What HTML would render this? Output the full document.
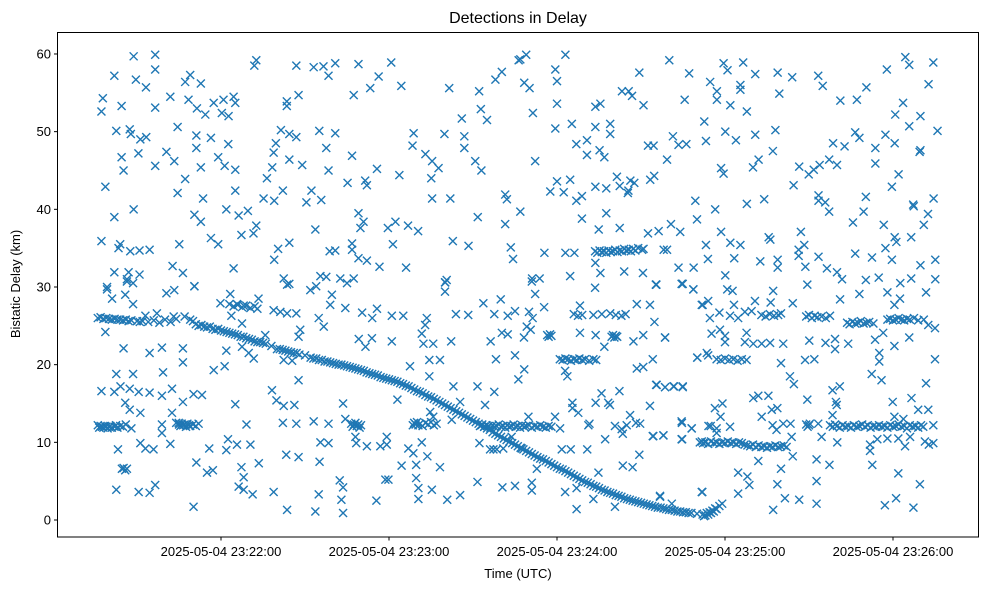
<!DOCTYPE html>
<html><head><meta charset="utf-8"><style>
html,body{margin:0;padding:0;background:#fff;}
svg{display:block;font-family:"Liberation Sans","DejaVu Sans",sans-serif;}
</style></head><body>
<svg id="chart" width="988" height="590" viewBox="0 0 988 590" xmlns="http://www.w3.org/2000/svg">
<rect x="0" y="0" width="988" height="590" fill="#fff"/>
<text x="518" y="23" text-anchor="middle" font-size="16" fill="#000">Detections in Delay</text>
<text x="518" y="578" text-anchor="middle" font-size="13" fill="#000">Time (UTC)</text>
<text x="20" y="284" text-anchor="middle" font-size="13" fill="#000" transform="rotate(-90 20 284)">Bistatic Delay (km)</text>
<g id="marks"></g>
<g id="axes"></g>
</svg>
<script>
// seconds after 23:21:00 UTC, delay in km
const xTickSeconds = [60, 120, 180, 240, 300];
const xTickLabels = ["2025-05-04 23:22:00","2025-05-04 23:23:00","2025-05-04 23:24:00","2025-05-04 23:25:00","2025-05-04 23:26:00"];
const yTickValues = [0, 10, 20, 30, 40, 50, 60];

const mainTrack = [[16,26],[17,26.1],[18,25.9],[19,26],[20,25.9],[21,25.8],[22,25.9],[23,25.8],[24,25.8],[25,25.7],[26,25.8],[27,25.6],[28,25.7],[30,25.6],[31,25.5],[32,25.6],[34,25.5],[36,25.7],[38,25.4],[40,25.8],[42,25.5],[44,25.9],[47,26.2],[49,25.8],[50,25.6],[51,25.2],[52,25],[53,25.1],[54,24.9],[55,24.8],[56,24.9],[57,24.6],[58,24.5],[59,24.6],[60,24.4],[61,24.3],[62,24.2],[63,24.1],[64,24],[65,23.9],[66,23.8],[67,23.6],[68,23.6],[69,23.4],[70,23.3],[71,23.2],[72,23],[73,22.9],[74,22.9],[75,22.8],[76,22.7],[78,22.4],[80,22],[81,22],[82,21.9],[83,21.8],[84,21.7],[85,21.6],[86,21.5],[87,21.5],[88,21.3],[90,21.2],[92,20.9],[93,20.8],[94,20.8],[95,20.6],[96,20.6],[97,20.4],[98,20.4],[99,20.3],[100,20.2],[101,20.1],[102,20],[103,20],[104,19.9],[105,19.8],[106,19.7],[107,19.6],[108,19.5],[109,19.4],[110,19.3],[111,19.2],[112,19],[113,18.9],[114,18.8],[115,18.7],[116,18.6],[117,18.4],[118,18.3],[119,18.2],[120,18.1],[121,18],[122,17.9],[123,17.8],[124,17.6],[125,17.5],[126,17.3],[127,17.2],[128,17],[129,16.8],[130,16.6],[131,16.5],[132,16.3],[133,16.1],[134,15.9],[135,15.8],[136,15.6],[137,15.4],[138,15.2],[139,15],[140,14.8],[141,14.6],[142,14.4],[143,14.2],[144,14],[145,13.8],[146,13.6],[147,13.4],[148,13.2],[149,13],[150,12.8],[151,12.6],[152,12.4],[153,12.2],[154,12],[155,11.8],[156,11.6],[157,11.3],[158,11.1],[159,10.9],[160,10.7],[161,10.5],[162,10.3],[163,10.1],[164,9.9],[165,9.7],[166,9.5],[167,9.3],[168,9.1],[169,8.9],[170,8.7],[171,8.5],[172,8.3],[173,8.1],[174,7.9],[175,7.8],[176,7.6],[177,7.4],[178,7.2],[179,7],[180,6.8],[181,6.6],[182,6.5],[183,6.3],[184,6.1],[185,5.9],[186,5.7],[187,5.5],[188,5.3],[189,5.1],[190,4.9],[191,4.8],[192,4.6],[193,4.4],[194,4.3],[195,4.1],[196,3.9],[197,3.8],[198,3.6],[199,3.5],[200,3.4],[201,3.2],[202,3.1],[203,3],[204,2.8],[205,2.7],[206,2.6],[207,2.5],[208,2.4],[209,2.3],[210,2.2],[211,2.1],[212,2],[213,1.9],[214,1.8],[215,1.7],[216,1.6],[217,1.6],[218,1.5],[219,1.4],[220,1.3],[221,1.3],[222,1.2],[223,1.1],[224,1.1],[225,1],[226,1],[227,0.9],[228,0.9],[230,0.8],[232,0.7],[232.5,0.5],[233,0.6],[233.5,0.9],[234,0.7],[234.5,1],[235,0.9],[235.5,1.2],[236,1.1],[236.5,1.5],[237,1.4],[238,1.8],[239,2.1]];

const seg12 = [[16,12.2],[16.5,11.9],[17,12.1],[17.5,12],[18,11.9],[18.5,12.1],[19,12],[19.5,11.8],[20,12],[20.5,12.1],[21,11.9],[22,12],[22.5,12.2],[23,11.9],[24,12.1],[25,12],[26,12.3],[28,11.8],
[44,12.5],[45,12.3],[45.5,12.1],[46,12.4],[46.5,12.2],[47,12.3],[47.5,12],[48,12.4],[48.5,12.2],[49,12.1],[50,12.3],[51,12.1],[52,12.4],
[106.5,12.4],[107,12],[107.5,12.3],[108,12.5],[108.5,12.1],[109,12.3],[109.5,11.9],[110,12.2],
[128.5,12.2],[129,12.5],[129.5,12.3],[130,12.6],[130.5,12.2],[131,12.4],[132,12.1],[133,12.5],[134,12.3],[135,12.6],[136,12.2],[137,12.4],
[152.5,12.1],[153.3,12.3],[154,12],[154.8,12.2],[155.5,12.1],[156.2,11.9],[157,12.2],[157.7,12],[158.4,12.1],[159.2,12.3],[160,12],[160.7,12.1],[161.5,11.9],[162.2,12.2],[163,12],[163.7,12.1],[164.5,12.3],[165.2,12],[166,12.1],[166.8,11.9],[167.5,12.2],[168.3,12],[169,12.1],[170,12.2],[171,11.9],[172,12.1],[173,12],[174,12.2],[175,12],[176,11.9],[177,12.1],[178,12],
[269,12.3],[269.5,12],[270,12.2],
[277.5,12.2],[278.5,12],[279.3,12.3],[280,12.1],[281,11.9],[282,12.2],[283,12],[284,12.1],[285,11.9],[286,12.2],[287,12],[288,12.1],[289,12.3],[290,12],[291,12.2],[292,11.9],[293,12.1],[294,12],[295,12.2],[296,12],[297,12.1],[298,11.9],[299,12.2],[300,12],[301,12.1],[302,12.3],[303,12],[304,12.1],[305,11.8],[306,12.2],[307,12],[308,12.1],[309,11.9],[310,12.2],[310.8,12]];

const seg26 = [[269,26.2],[270,26.4],[271,26],[272,26.3],[273,26.1],[274.5,26.2],[276,26],[277.5,26.3],
[283.6,25.4],[284.5,25.2],[285.5,25.5],[286.5,25.3],[287.5,25.4],[288.5,25.6],[289.5,25.3],[290.5,25.4],[291.5,25.5],[293,25.3],
[298,25.8],[299,25.9],[300,25.7],[301,25.8],[302,26],[303,25.8],[304,25.7],[305,25.9],[306,25.8],[307.5,26],[309,25.7],[311,25.8],
[186,26.5],[187.5,26.3],[189,26.4],[193,26.4],[196,26.5],[199,26.6],[201,26.4],[203,26.3],[204.5,26.5],
[253,26.4],[254.5,26.2],[256,26.5],[257.5,26.3],[259,26.4],[260,26.6],
[63,27.8],[64.5,27.5],[66,27.7],[67.5,27.4],[69,27.6],[70.5,27.3],[72,27.5],[73,27.2]];

const seg35 = [[193.6,34.6],[194.4,34.4],[195.2,34.7],[196,34.5],[196.8,34.6],[197.6,34.4],[198.4,34.7],[199.2,34.5],[200,34.6],[200.8,34.8],[201.6,34.5],[202.4,34.7],[203.2,34.6],[204,34.9],[204.8,34.7],[205.6,34.8],[206.4,34.6],[207.2,34.9],[208,34.7],[209,35],[210.4,34.8]];

const seg20 = [[181,20.7],[182,20.6],[183,20.8],[184,20.7],[185,20.5],[186,20.7],[187,20.6],[188,20.8],[189,20.6],[190,20.7],[191.5,20.5],[193,20.7],[194,20.6],
[237,20.7],[238.5,20.6],[240,20.8],[241.5,20.6],[243,20.7],[244.5,20.5],[246,20.7],[247.7,20.6],
[176.5,23.8],[177,23.6],[177.5,23.9],[178,23.7],[199.5,23.6],[200,23.8],[200.5,23.5],[201,23.7],[201.5,23.6]];

const seg10 = [[232.2,9.9],[233,10],[234,9.8],[235,10.1],[236,9.9],[237,10],[238,9.8],[239,10],[240,9.9],[241,10.1],[242,9.9],[243,10],[244,9.8],[245,10],[246,9.9],[247,9.7],[248,9.6],[249,9.5],[250,9.7],[251,9.4],[252,9.6],[253,9.4],[254,9.5],[255,9.3],[256,9.5],[257,9.4],[258,9.6],[259,9.4],[260,9.5],[261,9.6],[262,9.4],
[24.6,6.6],[25.2,6.7],[25.8,6.4],[26.4,6.6],[156.1,9.1],[157.3,9.1],[158.5,9.1]];

const noise = [[28.8,59.7],[36.5,59.9],[36.5,58],[21.9,57.2],[29.6,56.7],[33.2,55.7],[17.8,54.3],[17.3,52.6],[24.5,53.3],[36.5,53.1],[41.9,54.5],[47.2,56.4],[49,57.3],[52.8,56.2],[48.4,54.1],[51.4,53],[54.4,52.2],[57.4,53.7],[60.9,54.1],[64.5,54.5],[65.1,53.7],[60.3,52.4],[62.7,52],[71.9,58.5],[72.6,59.2],[86.9,58.5],[93.1,58.3],[96.6,58.4],[100.8,58.8],[98.4,57.2],[109.1,58.7],[120.8,58.9],[116.3,57.1],[113.3,55.6],[124.4,55.9],[107.4,54.7],[83.5,53.9],[83.5,53.3],[87.7,54.7],[141.5,55.6],[152.2,55.2],[158,56.7],[160.3,57.7],[152.8,52.9],[155,51.5],[146,51.7],[166.3,59.2],
[22.6,50.1],[27.4,50.3],[27.8,49.7],[31.2,49],[33.3,49.3],[44.5,50.6],[51.2,49.5],[56.4,49.2],[51.2,47.9],[62.6,48.4],[24.5,46.7],[30.5,47.2],[40.5,47.4],[43.3,46.2],[25.2,45],[36.5,45.6],[52.8,45.4],[59,46.7],[61.3,45.6],[65.1,45.1],[81.4,50.2],[84.4,49.7],[86.9,49.3],[79.6,48.5],[78.8,47.3],[95.1,50.1],[100.8,49.8],[97.6,47.9],[84.4,46.4],[89,45.7],[78.3,45.4],[76.4,44],[98.4,45],[106.8,46.9],[115.7,45.2],[123.7,44.4],[128.8,49.8],[128.4,48.2],[133,47.1],[135.4,46.2],[137.7,45.3],[135.1,44],[139.8,49.7],[146.9,49.4],[146.9,47.9],[150.8,46.2],[153,45],[18.7,42.9],[44.5,42.1],[53.6,41.4],[65.1,42.4],[75.2,41.4],[79,41.1],[82.1,42.4],[92.3,42.4],[90.5,40.9],[95.8,41.2],[105.2,43.4],[111.5,43.7],[112.1,43.1],[135.4,41.4],[141.9,41.4],[161.5,41.9],[162.1,41.3],
[21.9,39],[28.8,40],[47.2,43.9],[50.5,39.3],[52.8,38.4],[61.9,40],[66.3,39.2],[69.6,39.8],[72.6,37.9],[71.6,36.9],[67.3,36.7],[56.4,36.3],[59,35.5],[45.1,35.5],[17.3,35.9],[24,35.5],[23.4,35],[27.6,34.6],[30.9,34.7],[34.5,34.8],[93.7,37.4],[109.1,39.5],[110.9,38.4],[109.8,37.6],[119.6,37.6],[122.3,38.4],[126.8,37.9],[130.4,37.2],[121.4,35.5],[142.8,35.9],[148.4,35.3],[151.7,39],[161.5,38.1],[163.5,35.1],[164.3,33.6],[84.4,35.7],[80.4,34.9],[79,33.5],[98.8,34.6],[100.8,34.7],[106.8,35.6],[106.8,34.8],[109.1,33.7],[112.1,33.4],[116.6,32.6],[126.1,32.5],[21.9,31.9],[27,31.9],[30.9,31.6],[26.4,31],[28.6,30.5],[42.7,32.7],[46.4,31.8],[50.5,30.1],[64.5,32.4],[82.4,31.1],[84.4,30.4],[95.5,31.4],[97.6,31.3],[102.6,31.1],[105,30.5],[107.4,31.1],[140.1,30.6],[140.6,30.9],[19.3,30],
[166.9,59.3],[169,59.9],[183,59.9],[179.4,58],[180,56.5],[168.3,56.3],[170.2,55.6],[171.4,52.4],[180,53.6],[179.4,50.4],[220.1,59.2],[209.4,57.6],[227.2,57.5],[234.7,56.4],[239.5,58.8],[240.9,57.9],[246.5,58.9],[250.8,57.4],[245.5,56],[245.5,55.4],[237.1,55.2],[237.1,54.1],[241.9,53.4],[247.8,52.6],[225.6,54.1],[203.2,55.2],[205.6,55.2],[206.8,54.6],[210.9,53.4],[193.7,53.2],[195.5,53.6],[258.8,57.6],[259.4,54.9],[264,57],[273.3,57.2],[274.9,55.9],[281.2,54],[287.1,54.1],[290.5,55.7],[297.8,58],[304.4,59.6],[305.8,58.6],[314.4,58.9],[312.7,56.1],[303.6,53.7],[300.8,52.2],[309.8,52],[305.8,50.7],[315.9,50.1],[297.3,49.6],[300.6,48.5],[293.7,47.9],[293.7,45.9],[309.8,47.6],[309.5,47.4],[302,44.5],[299.6,42.9],[286.5,49.9],[288,49.2],[282.7,48.1],[278.6,48.5],[280,45.7],[277.2,46.4],[273.8,45.7],[271.7,45.1],[269.9,44.5],[266.5,45.5],[264.5,43.1],[258,50.2],[250.8,49.6],[257.1,47.5],[252,46.4],[250,45.4],[243.9,48.9],[240.1,50],[233.2,48.8],[232.6,51.3],[221.4,49.4],[223.4,48.3],[226.2,48.4],[212.5,48.2],[214.5,48.2],[219.3,46.4],[199,51],[199,49.7],[193.7,50.6],[185.3,51],[186.9,48.4],[190.7,48.9],[190.7,47],[195.2,47.6],[196.9,46.7],[172.2,46.2],[238.6,45.3],[239.5,44.6],[180,43.6],[184.7,43.8],[177.6,42.3],[182.4,42.2],[186.9,41.1],[188.9,41.7],[193.7,42.9],[197.6,42.7],[201.4,44.2],[202.4,43],[206.2,43.7],[207.6,43.4],[205.3,42.1],[205.5,42.4],[213.3,43.8],[214.7,44.3],
[166.9,39.7],[188.9,38.8],[197.6,39.5],[194.9,37.4],[202.4,37.6],[212.5,36.9],[216.3,37.2],[220.7,38.1],[224,37.1],[229.4,41.1],[230,38.7],[236.5,40],[247.8,40.7],[254,41.3],[238.6,37.1],[233.2,35.4],[241.9,35.7],[245.5,35.4],[233.9,33.6],[243.3,33.7],[255.6,36.4],[256.2,36.1],[267.1,37.1],[268.3,35.4],[266.3,34.8],[266.3,34],[252.6,33.3],[258.8,33.5],[258.8,32.5],[268.7,32.6],[273.4,33.9],[276.4,32.4],[280,31.9],[281.8,31],[273.4,41.8],[273.4,41.1],[275.8,40.9],[277.2,39.7],[285.7,38.3],[289.5,39.7],[290.3,41.6],[296.7,38],[300.6,36.4],[301.2,35.8],[297.3,35],[306.5,36.4],[311,38],[312.5,39.4],[314.5,41.4],[307.4,40.4],[307.2,40.6],[286.5,34.3],[292.5,33.8],[299.6,33.5],[309.8,32.8],[315.1,33.5],[315.1,31],[306.5,31.1],[302.6,30.5],[294.9,31.2],[290.3,30.9],[175.5,34.4],[183,34.4],[186.2,34.4],[193.7,33.1],[195.5,31.8],[204,32],[210.7,31.8],[184.7,31.4],[171.1,31.1],[173.8,31.1],[223.4,32.5],[228.8,32.5],[240.1,31.5],[215.5,30.3],[224.9,30.4],[218.1,34.8],[219.3,34.8],[210.9,34.9],
[19.3,29.7],[21.1,28.5],[25.8,29],[28.6,27.8],[26.4,30.7],[40.5,29.2],[43.3,29.6],[50.5,30.1],[18.7,24.2],[25.2,22.1],[34.5,21.5],[38.9,22.2],[46.4,22.1],[46.4,20.3],[22.6,18.8],[28.6,18.8],[39.3,19],[57.4,19.3],[61.3,19.8],[61.9,21.8],[59.8,27.9],[63.3,29.1],[73.4,28.5],[17.3,16.6],[21.9,16.5],[24.1,17.2],[27.4,16.9],[30.6,16.5],[34.5,16.4],[38.9,16],[42.5,16.9],[46.4,15.2],[50.2,16.2],[53.2,16.1],[25.8,15.1],[27.4,14.2],[31.2,13.8],[42.5,13.8],[65.1,14.9],[69.1,12.3],[78.2,16.7],[79.8,15.4],[82.4,14.7],[86.2,14.8],[87.7,18],[88.3,24.5],[87.7,23.6],[82.4,20.6],[85.4,20.5],[103.6,15],[82.1,12.5],[86.9,12.4],[93.1,12.7],[98.4,12.4],[104.4,13],[108,10.7],[108.3,9.9],[112.1,9.5],[116.9,9.5],[23.2,9.1],[31.2,9.9],[33,9.2],[35.9,9.1],[41.9,9.8],[38.9,12.3],[38.9,11.2],[44.9,12.5],[55.8,9.2],[62.5,10.4],[61.9,9],[65.7,9.7],[70.5,9.7],[73.5,7.3],[51.2,7.4],[55,6.1],[57.1,6.4],[67.3,6.8],[68.1,5.5],[66.3,4.3],[68.1,3.9],[71.3,3.3],[78.8,3.6],[22.6,3.9],[30.6,3.6],[34.5,3.5],[36.5,4.5],[50.2,1.7],[83.3,8.4],[87.7,8.1],[95.2,7.5],[95.5,10],[98.4,9.9],[83.6,1.3],[93.7,1.1],[94.9,3.3],[102.4,5.1],[103.6,4.2],[103,2.6],[103.6,0.9],[115.5,2.5],[118.7,5.2],[78.8,27],[81.2,26.8],[83.6,26.6],[86.9,26.6],[83.6,30.3],[91.9,29.6],[94,30.1],[99.6,29],[99,27.7],[96.7,24.9],[94.9,26],[104.4,27.3],[110.4,26.7],[115.7,27.2],[114,26],[111.6,22.3],[113.9,23.4],[109.2,23.3],[65.7,27.8],[68.1,27.6],[63.7,26.3],[67.5,25.3],[67.5,22.3],[69.9,21.5],[71.7,20.8],[75.8,23.8],[33,26.3],[37.1,26.6],[43.1,26.2],
[140,30.6],[140,29.4],[171,30.7],[172.2,29.1],[193.6,29.9],[215.4,30.3],[224.5,30.4],[228.7,29.7],[231.7,27.7],[153.7,27.9],[159.9,28.4],[175.4,27.4],[121,26.3],[125.1,26.3],[133.5,26],[132.9,25.1],[143.9,26.5],[148.3,26.4],[157.6,26.5],[162.4,26.3],[165,26.9],[170,26.8],[171.3,26],[170.6,24.5],[169.2,24.9],[131.7,24],[132.3,22.7],[135.8,22.7],[142.2,23],[121,23],[156.3,23],[160.3,24.1],[162.4,23.9],[168.2,23.5],[134.4,20.6],[138.2,20.6],[127.5,19.8],[134.4,18.5],[158.2,20.7],[165,21.2],[168.3,19.4],[166.2,18.1],[143,17.2],[151.6,17.2],[157.6,16.5],[154.3,14.8],[188.2,24.1],[193.8,23.8],[196.9,22.3],[188.2,27.6],[214.8,25.5],[213.2,27.7],[208.5,27.8],[218.6,23.5],[207.3,23],[210.8,23.8],[214.2,20.7],[210.8,19.7],[208.5,19.5],[230.1,20.9],[233.5,21.5],[182.9,19.2],[183.7,18.5],[215.4,17.4],[218.6,17.1],[221.6,17.2],[224.9,17.2],[195.9,16.3],[202.3,16.6],[193.8,15.1],[198.3,15.1],[198.9,14.8],[185.5,15.1],[185.5,14.4],[187.6,13.8],[213.2,14.7],[206.1,13.5],[208.2,12.5],[209.7,12.4],[204.9,12.2],[200.7,12.1],[203.1,11.7],[203.5,11.1],[191.2,12.2],[191.6,12.4],[224.5,12.7],[228.1,11.8],[234.1,12.1],[214.2,10.8],[218,10.9],[224.5,10.4],[231.7,10.1],[197.2,10.4],[181.7,9.1],[184.9,9.1],[190.8,9.1],[209.4,8.4],[203.5,7],[207,6.8],[194.8,6.1],[182.9,3.6],[187,4.1],[193,2.7],[187,1.4],[200.7,1.7],[216.8,3],[221,2.1],[231.7,3.6],[123,15.5],[134.7,13.9],[135.8,13.3],[142.4,12.9],[145.4,15.2],[152.3,9.9],[160.8,9.2],[163.8,10.7],[167.4,9.2],[169.8,13.3],[179.3,13.3],[181.1,11.8],[119.2,10.7],[119.2,9.7],[126.9,9.2],[131.7,10],[128.7,8.6],[133.7,8.2],[124.5,7],[129.7,7.1],[138.2,6.8],[119.8,5.2],[129.7,5.4],[130.5,4.1],[135.3,3.9],[130.5,2.7],[140.8,2.6],[145.4,3.2],[151.6,4.9],[160.5,4.2],[165,4.4],[171,4.8],[171,3.8],[172.8,6.6],
[215.3,30.3],[224.7,30.4],[228.7,29.7],[240.8,29.7],[242.7,29.5],[257.2,29.5],[269.4,30.3],[281.1,28.4],[288,29.1],[298,29.3],[302.5,28.5],[300.5,27.7],[311.8,29.3],[232,27.7],[234,28.2],[238,26.7],[234.6,26],[241.8,26.3],[243.2,27.7],[244.7,26],[247.1,26.8],[249.5,26.9],[250.7,28.2],[256.3,28],[264.2,27.9],[235.2,24],[238.2,24.5],[240,23.7],[240,22.9],[247.7,24.1],[247.1,22.9],[250.1,22.7],[253.1,22.7],[256.1,22.8],[260.8,22.7],[218.6,23.5],[230.1,20.9],[234,21.2],[260,20.2],[263.2,18.5],[264.6,17.5],[268.6,20.6],[271.9,20.7],[270.1,23.1],[275.9,22.8],[279.3,23.3],[279.3,22],[284,22.7],[293.6,23.2],[296.5,24.1],[300.5,22.4],[305.8,23.5],[295.1,21.5],[295.1,20.4],[292.4,18.8],[295.9,18],[311.8,17.6],[315,20.7],[315,24.7],[312.6,25.1],[215.6,17.4],[218.6,17.1],[221.8,17.2],[224.9,17.1],[236.4,14.4],[239.1,15],[238.4,13.3],[250.1,15.7],[251.9,16],[255.5,16],[253.1,13.3],[256.7,14.2],[258.7,14.4],[269.4,15.5],[278.4,16.7],[281,17.2],[279.6,15.2],[279.9,14.8],[278.4,13.5],[299.9,15.2],[306.6,15.7],[309,14.2],[312.6,14.2],[300.5,13.3],[303.7,13],[224.6,12.5],[228.1,11.8],[234.9,12.1],[237,11.8],[241.8,12],[237,11.2],[257,12.2],[258.4,11.6],[260.8,12.4],[263.4,12.4],[270.3,12.4],[273.3,12.4],[274.5,10.7],[280.1,10],[291.8,9.7],[291.8,8.9],[294.4,10.4],[298,10.5],[301.9,10.5],[304.3,9.5],[306.1,10.7],[314.4,12.2],[311.4,10.1],[314.4,9.9],[312.8,9.7],[218,10.9],[214.4,10.8],[224.7,10.4],[231,10],[263.8,10.7],[264.2,8.2],[272.7,7.8],[277.3,7.1],[251.9,7.6],[260,6.6],[244.7,6.1],[248,5.6],[248.7,4.5],[258.7,4.6],[272.7,5],[244.7,3.4],[261.4,2.8],[266.5,2.6],[272.7,2.1],[257.2,1.3],[231.9,3.6],[216.8,3.1],[292.6,7.1],[301.9,6],[309.6,4.6],[297.1,1.9],[301.1,2.8],[307.3,1.6]];

function xScale(s){ return 221 + (s - 60) * 2.8; }
function yScale(km){ return 520 - km * 7.767; }

const NS = "http://www.w3.org/2000/svg";
const marks = document.getElementById("marks");
const groups = [["main-track", mainTrack], ["track-12km", seg12], ["track-26km", seg26], ["track-35km", seg35], ["track-20km", seg20], ["track-10km", seg10], ["noise", noise]];
groups.forEach(function(g){
  g[1].forEach(function(p){
    const x = xScale(p[0]), y = yScale(p[1]);
    const el = document.createElementNS(NS, "path");
    el.setAttribute("d", "M" + (x-4) + " " + (y-4) + "L" + (x+4) + " " + (y+4) + "M" + (x-4) + " " + (y+4) + "L" + (x+4) + " " + (y-4));
    el.setAttribute("stroke", "#1f77b4");
    el.setAttribute("stroke-width", "1.4");
    el.setAttribute("fill", "none");
    
    
    marks.appendChild(el);
  });
});

const axes = document.getElementById("axes");
const frame = document.createElementNS(NS, "rect");
frame.setAttribute("x", "57.5"); frame.setAttribute("y", "32.5");
frame.setAttribute("width", "921"); frame.setAttribute("height", "504.5");
frame.setAttribute("fill", "none"); frame.setAttribute("stroke", "#000"); frame.setAttribute("stroke-width", "1");


axes.appendChild(frame);

yTickValues.forEach(function(v){
  const y = yScale(v);
  const t = document.createElementNS(NS, "line");
  t.setAttribute("x1", "54"); t.setAttribute("x2", "57.5");
  t.setAttribute("y1", y); t.setAttribute("y2", y);
  t.setAttribute("stroke", "#000");
  
  
  axes.appendChild(t);
  const l = document.createElementNS(NS, "text");
  l.setAttribute("x", "51"); l.setAttribute("y", y + 4.5);
  l.setAttribute("text-anchor", "end"); l.setAttribute("font-size", "13");
  l.textContent = String(v);
  
  
  axes.appendChild(l);
});

xTickSeconds.forEach(function(s, i){
  const x = xScale(s);
  const t = document.createElementNS(NS, "line");
  t.setAttribute("x1", x); t.setAttribute("x2", x);
  t.setAttribute("y1", "537"); t.setAttribute("y2", "540.5");
  t.setAttribute("stroke", "#000");
  
  
  axes.appendChild(t);
  const l = document.createElementNS(NS, "text");
  l.setAttribute("x", x); l.setAttribute("y", "556");
  l.setAttribute("text-anchor", "middle"); l.setAttribute("font-size", "13");
  l.textContent = xTickLabels[i];
  
  
  axes.appendChild(l);
});
</script>
</body></html>
